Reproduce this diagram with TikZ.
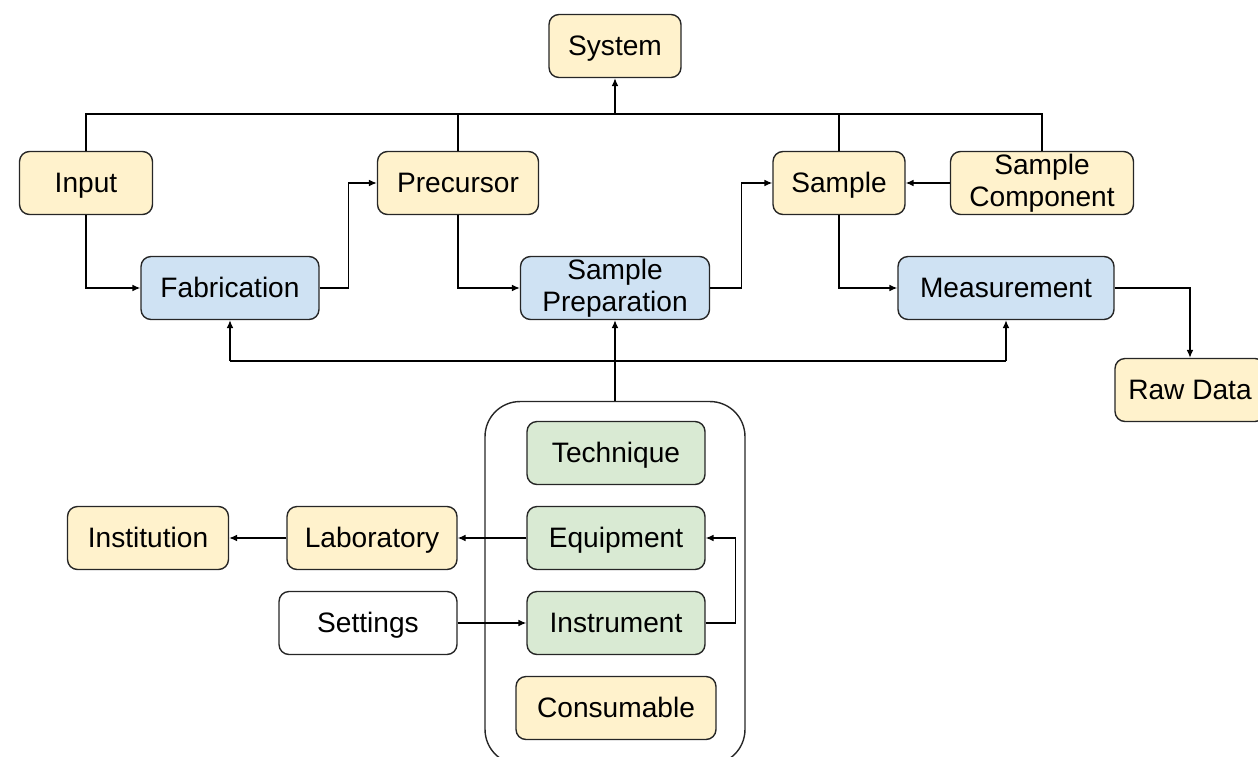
\documentclass[tikz,border=0pt]{standalone}
\usepackage{fontspec}
\setmainfont{Liberation Sans}
\usetikzlibrary{arrows.meta}
\definecolor{entityyellow}{HTML}{FFF2CC}
\definecolor{processblue}{HTML}{CFE2F3}
\definecolor{toolgreen}{HTML}{D9EAD3}
\definecolor{edgegray}{HTML}{262626}
\tikzset{
    box/.style={draw=edgegray, line width=0.8pt, rounded corners=0.2cm,
        minimum height=1.26cm, align=center, inner sep=1pt,
        text height=12pt, text depth=1pt,
        font=\fontsize{16}{18.5}\selectfont},
    twoline/.style={text height=, text depth=},
    entity/.style={box, fill=entityyellow},
    process/.style={box, fill=processblue},
    tool/.style={box, fill=toolgreen},
    plain/.style={box, fill=white},
    link/.style={line width=0.7pt, -{Latex[length=4.5pt,width=3.8pt]}},
    wire/.style={line width=0.7pt}
}

\begin{document}
\begin{tikzpicture}[x=0.02cm, y=-0.02cm]
    \useasboundingbox (0,0) rectangle (1258,757);

    % Top row
    \node[entity, minimum width=2.64cm] (system) at (615,46) {System};
    \node[entity, minimum width=2.66cm] (input) at (86,183) {Input};
    \node[entity, minimum width=3.22cm] (precursor) at (458,183) {Precursor};
    \node[entity, minimum width=2.64cm] (sample) at (839,183) {Sample};
    \node[entity, twoline, minimum width=3.66cm] (component) at (1042,183) {Sample\\Component};

    % Processes
    \node[process, minimum width=3.56cm] (fabrication) at (230,288) {Fabrication};
    \node[process, twoline, minimum width=3.78cm] (preparation) at (615,288) {Sample\\Preparation};
    \node[process, minimum width=4.32cm] (measurement) at (1006,288) {Measurement};
    \node[entity, minimum width=3.0cm] (rawdata) at (1190,390) {Raw Data};

    % Toolkit
    \node[draw=edgegray, line width=0.8pt, rounded corners=0.7cm,
        minimum width=5.2cm, minimum height=7.26cm] (toolkit) at (615,583) {};
    \node[tool, minimum width=3.56cm] (technique) at (616,453) {Technique};
    \node[tool, minimum width=3.56cm] (equipment) at (616,538) {Equipment};
    \node[tool, minimum width=3.56cm] (instrument) at (616,623) {Instrument};
    \node[entity, minimum width=4.0cm] (consumable) at (616,708) {Consumable};

    % Left side
    \node[entity, minimum width=3.4cm] (laboratory) at (372,538) {Laboratory};
    \node[entity, minimum width=3.22cm] (institution) at (148,538) {Institution};
    \node[plain, minimum width=3.56cm] (settings) at (368,623) {Settings};

    % Tree into system
    \coordinate (bus) at (615,114);
    \draw[wire] (input.north) |- (bus) -| (component.north);
    \draw[wire] (precursor.north) -- (precursor.north |- bus);
    \draw[wire] (sample.north) -- (sample.north |- bus);
    \draw[link] (bus) -- (system.south);

    % Main flow
    \draw[link] (input.south) |- (fabrication.west);
    \draw[link] (fabrication.east) -- ++(29,0) |- (precursor.west);
    \draw[link] (precursor.south) |- (preparation.west);
    \draw[link] (preparation.east) -- ++(31,0) |- (sample.west);
    \draw[link] (component.west) -- (sample.east);
    \draw[link] (sample.south) |- (measurement.west);
    \draw[link] (measurement.east) -| (rawdata.north);

    % Toolkit feeds the processes
    \draw[link] (toolkit.north) -- (preparation.south);
    \draw[link] (fabrication.south |- 0,361) -- (fabrication.south);
    \draw[link] (measurement.south |- 0,361) -- (measurement.south);
    \draw[wire] (fabrication.south |- 0,361) -- (measurement.south |- 0,361);

    % Lab side
    \draw[link] (equipment.west) -- (laboratory.east);
    \draw[link] (laboratory.west) -- (institution.east);
    \draw[link] (settings.east) -- (instrument.west);
    \draw[link] (instrument.east) -- ++(30,0) |- (equipment.east);
\end{tikzpicture}
\end{document}
